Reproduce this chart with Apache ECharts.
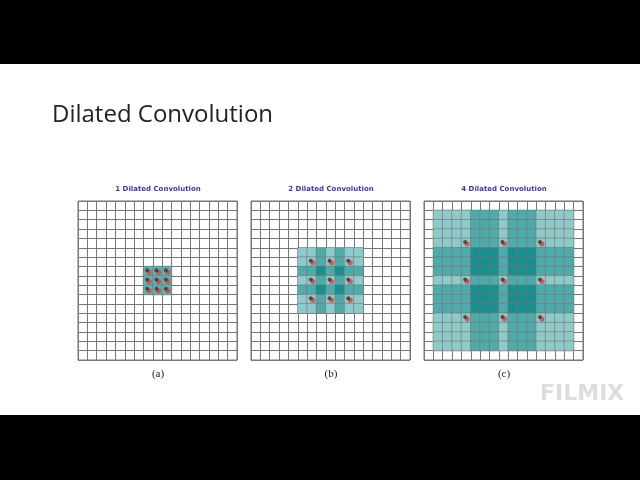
<!DOCTYPE html><html><head><meta charset="utf-8">
<script src="https://cdn.jsdelivr.net/npm/echarts@6/dist/echarts.min.js"></script>
<style>html,body{margin:0;background:#000}#c{width:640px;height:480px}</style></head><body><div id="c"></div>
<script>
const cells = Array.from({length:17},(_, i)=>String(i));
const panelTitles = ['1 Dilated Convolution','2 Dilated Convolution','4 Dilated Convolution'];
const panelLabels = ['(a)','(b)','(c)'];
// coverage level per column / row, product gives shade
const bandA = [0,0,0,0,0,0,0,1,1,1,0,0,0,0,0,0,0];
const bandB = [0,0,0,0,0,1,1,2,1,2,1,1,0,0,0,0,0];
const bandC = [0,1,1,1,1,2,2,2,1,2,2,2,1,1,1,1,0];
const dotsA = [7,8,9];
const dotsB = [6,8,10];
const dotsC = [4,8,12];
const bands=[bandA,bandB,bandC], dots=[dotsA,dotsB,dotsC];
const lefts=[78,251,424];
const shade={1:'#8fcaca',2:'#4faaaa',4:'#17908f'};
const opt={backgroundColor:'#000',animation:false,grid:[],xAxis:[],yAxis:[],series:[],
 graphic:[
  {type:'rect',shape:{x:0,y:64,width:640,height:351},style:{fill:'#fff'},z:-10},
  {type:'text',left:52,top:103,style:{text:'Dilated Convolution',font:'24px "Open Sans"',fill:'#222'}},
  {type:'text',left:540,top:383,style:{text:'FILMIX',font:'bold 22px "DejaVu Sans"',fill:'#ddd'}}
 ]};
for(let p=0;p<3;p++){
 opt.grid.push({left:lefts[p],top:201,width:159,height:159,show:true,borderColor:'#777',borderWidth:1});
 opt.xAxis.push({type:'category',gridIndex:p,data:cells,axisLabel:{show:false},axisTick:{show:false},axisLine:{show:false},splitLine:{show:true,interval:0,lineStyle:{color:'#777',width:1}}});
 opt.yAxis.push({type:'category',gridIndex:p,data:cells,inverse:true,axisLabel:{show:false},axisTick:{show:false},axisLine:{show:false},splitLine:{show:true,interval:0,lineStyle:{color:'#777',width:1}}});
 const b=bands[p],hd=[];
 for(let x=0;x<17;x++)for(let y=0;y<17;y++){const v=b[x]*b[y];if(v>0)hd.push({value:[x,y,v],itemStyle:{color:p===0?'#5fb0b0':shade[v]}});}
 opt.series.push({type:'heatmap',xAxisIndex:p,yAxisIndex:p,data:hd,itemStyle:{borderColor:'#777',borderWidth:0.6}});
 const dd=[];dots[p].forEach(x=>dots[p].forEach(y=>dd.push([x,y])));
 opt.series.push({type:'scatter',xAxisIndex:p,yAxisIndex:p,data:dd,symbolSize:5,symbolOffset:[1,1],itemStyle:{color:'#e23a3a'},z:3});
 opt.series.push({type:'scatter',xAxisIndex:p,yAxisIndex:p,data:dd,symbolSize:4,symbolOffset:[-1,-1],itemStyle:{color:'#333'},z:4});
 opt.graphic.push({type:'text',x:lefts[p]+80,y:186,style:{text:panelTitles[p],font:'bold 7px "DejaVu Sans"',fill:'#3a3ab0',align:'center'}});
 opt.graphic.push({type:'text',x:lefts[p]+80,y:369,style:{text:panelLabels[p],font:'11px "Liberation Serif"',fill:'#222',align:'center'}});
}
echarts.init(document.getElementById('c')).setOption(opt);
</script></body></html>
